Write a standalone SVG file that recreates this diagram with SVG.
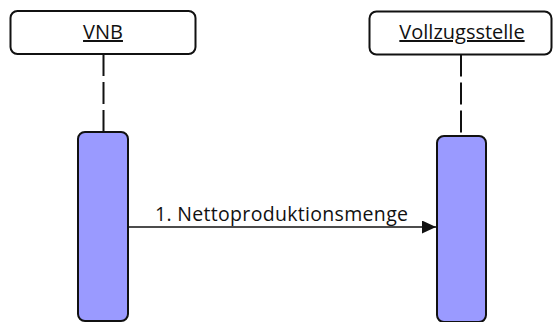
<svg xmlns="http://www.w3.org/2000/svg" width="553" height="322" viewBox="0 0 553 322">
  <defs>
    <style>
      .head { fill: #ffffff; stroke: #111111; stroke-width: 2; }
      .head-text { font-family: "Open Sans", "Liberation Sans", sans-serif; font-size: 20px; fill: #111111; text-anchor: middle; text-decoration: underline; }
      .lifeline { stroke: #111111; stroke-width: 2; stroke-dasharray: 22 6; fill: none; }
      .activation { fill: #9a9aff; stroke: #111111; stroke-width: 2; }
      .msg { stroke: #111111; stroke-width: 1.5; fill: none; }
      .msg-text { font-family: "Open Sans", "Liberation Sans", sans-serif; font-size: 19.5px; fill: #111111; text-anchor: middle; }
    </style>
    <marker id="arrow" viewBox="0 0 14 13" refX="14" refY="6.5" markerWidth="14" markerHeight="13" markerUnits="userSpaceOnUse" orient="auto">
      <path d="M0,0 L14,6.5 L0,13 Z" fill="#111111"/>
    </marker>
  </defs>
  <rect width="553" height="322" fill="#ffffff"/>

  <!-- participant: VNB -->
  <g id="vnb">
    <rect class="head" x="10.5" y="11" width="185" height="43" rx="7" ry="7"/>
    <text class="head-text" x="103" y="39">VNB</text>
    <line class="lifeline" x1="103.5" y1="54" x2="103.5" y2="132"/>
    <rect class="activation" x="78" y="132" width="50" height="189" rx="7" ry="7"/>
  </g>

  <!-- participant: Vollzugsstelle -->
  <g id="vollzugsstelle">
    <rect class="head" x="369.5" y="11.5" width="182" height="43" rx="7" ry="7"/>
    <text class="head-text" x="462" y="39">Vollzugsstelle</text>
    <line class="lifeline" x1="461" y1="54.5" x2="461" y2="136"/>
    <rect class="activation" x="437" y="136" width="49" height="186" rx="7" ry="7"/>
  </g>

  <!-- messages -->
  <g id="connectors">
    <line class="msg" x1="128" y1="227" x2="436" y2="227" marker-end="url(#arrow)"/>
    <text class="msg-text" x="281.5" y="221" textLength="253">1. Nettoproduktionsmenge</text>
  </g>
</svg>
